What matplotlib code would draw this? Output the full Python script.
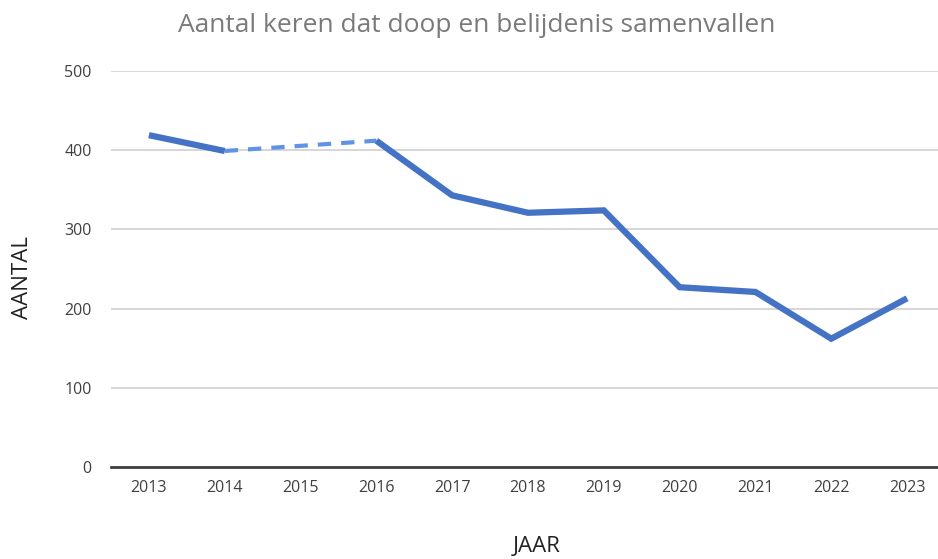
import matplotlib
matplotlib.use("Agg")
import matplotlib.pyplot as plt
import numpy as np

years = ["2013", "2014", "2015", "2016", "2017", "2018", "2019", "2020", "2021", "2022", "2023"]
values = [419, 399, None, 412, 343, 321, 324, 227, 221, 162, 213]
yticks = [0, 100, 200, 300, 400, 500]

plt.rcParams['font.family'] = ['Open Sans', 'DejaVu Sans']

W, H = 938, 559
fig = plt.figure(figsize=(W/100, H/100), dpi=100)
ax = fig.add_axes([111/W, (H-467)/H, (945-111)/W, 396/H])

x = np.arange(len(years))
vals = np.array([np.nan if v is None else v for v in values], dtype=float)

# dashed gap segment across missing value
idx = [i for i, v in enumerate(values) if v is None]
for i in idx:
    a, b = i-1, i+1
    ax.plot([x[a], x[b]], [vals[a], vals[b]], color="#5e93e6", lw=3.0,
            ls=(0, (3.2, 2.4)), solid_capstyle="butt", zorder=3)
ax.plot(x, vals, color="#4472C4", lw=4.5, solid_joinstyle="miter", solid_capstyle="butt", zorder=4)

ax.set_xlim(-0.5, len(years)-0.5)
ax.set_ylim(0, 500)
ax.set_yticks(yticks)
ax.set_xticks(x)
ax.set_xticklabels(years)
ax.grid(axis="y", color="#d0d0d0", lw=1.2)
ax.set_axisbelow(True)
for s in ["top", "right", "left"]:
    ax.spines[s].set_visible(False)
ax.spines["bottom"].set_color("#404040")
ax.spines["bottom"].set_linewidth(2)
ax.spines["bottom"].set_zorder(5)
ax.tick_params(axis="both", length=0, labelsize=11.5, colors="#404040")
ax.tick_params(axis="x", pad=9)
ax.tick_params(axis="y", pad=14)

fig.text(477/W, 1-25/H, "Aantal keren dat doop en belijdenis samenvallen", ha="center", va="center",
         fontsize=19, color="#7a7a7a")
fig.text(22/W, 1-278/H, "AANTAL", rotation=90, ha="center", va="center", fontsize=16, color="#222222")
fig.text(537/W, 1-546/H, "JAAR", ha="center", va="center", fontsize=16, color="#222222")

fig.savefig("out.png", dpi=100, facecolor="white")
